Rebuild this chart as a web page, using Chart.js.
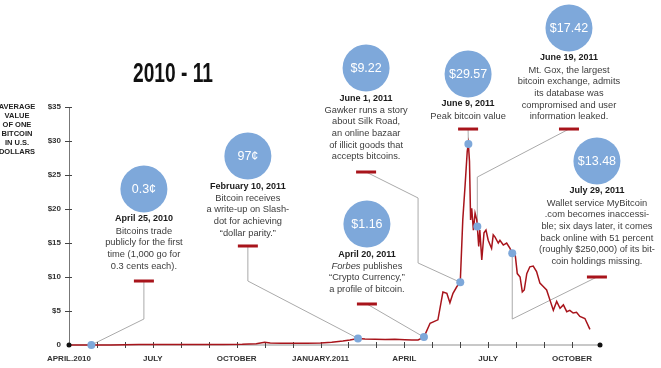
<!DOCTYPE html>
<html>
<head>
<meta charset="utf-8">
<script src="https://cdn.jsdelivr.net/npm/chart.js@4"></script>
<style>
  html, body { margin: 0; padding: 0; background: #fff; }
  #chart { display: block; }
</style>
</head>
<body>
<canvas id="chart" width="661" height="368"></canvas>
<script>
// x values are months since April 1, 2010
const months = [
  0, 0.8, 1.5, 2.5, 3.5, 4.5, 5.5, 6.2, 6.7, 7.0, 7.2, 7.6, 8.0, 8.5, 9.0, 9.4, 9.8,
  10.05, 10.34, 10.59, 10.95, 11.31, 11.66, 12.02, 12.27, 12.49, 12.7, 12.92, 13.2,
  13.38, 13.52, 13.63, 13.74, 13.88, 14.0, 14.09, 14.17, 14.25, 14.29, 14.33, 14.37,
  14.41, 14.47, 14.53, 14.59, 14.61, 14.66, 14.7, 14.77, 14.85, 14.92, 15.0, 15.12,
  15.18, 15.24, 15.36, 15.42, 15.54, 15.66, 15.78, 15.86, 15.96, 16.04, 16.14, 16.22,
  16.29, 16.38, 16.49, 16.61, 16.73, 16.85, 16.97, 17.09, 17.21, 17.33, 17.45, 17.57,
  17.69, 17.81, 17.92, 18.04, 18.16, 18.28, 18.46, 18.64
];
const prices = [
  0.003, 0.003, 0.01, 0.06, 0.07, 0.06, 0.06, 0.1, 0.2, 0.4, 0.3, 0.25, 0.24, 0.25, 0.3, 0.4, 0.6,
  0.75, 0.97, 0.88, 0.85, 0.8, 0.85, 0.78, 0.72, 0.75, 1.16, 3.2, 3.7,
  7.8, 7.6, 6.2, 7.6, 8.6, 9.22, 18.4, 23.3, 28.5, 29.57, 27, 18.4,
  20.1, 16.9, 19.4, 18.4, 17.42, 14.5, 16.9, 12.5, 16.5, 16.9, 15.4, 14.2,
  16.2, 15.9, 15.0, 15.4, 14.7, 15.0, 14.2, 13.48, 13.5, 10.5, 10.0, 7.8,
  8.1, 10.5, 11.5, 11.6, 10.8, 9.1, 8.6, 8.1, 6.6, 5.1, 6.4, 5.4,
  5.9, 4.9, 5.1, 4.7, 4.8, 4.2, 3.9, 2.3
];

const tickMonths = [0, 1, 2, 3, 4, 5, 6, 7, 8, 9, 10, 11, 12, 13, 14, 15, 16, 17, 18, 19];
const monthLabels = { 0: "APRIL.2010", 3: "JULY", 6: "OCTOBER", 9: "JANUARY.2011", 12: "APRIL", 15: "JULY", 18: "OCTOBER" };
const yAxisTitle = ["AVERAGE", "VALUE", "OF ONE", "BITCOIN", "IN U.S.", "DOLLARS"];

const eventMonths = [0.8, 10.34, 12.7, 14.0, 14.29, 14.61, 15.86];
const eventPrices = [0.003, 0.97, 1.16, 9.22, 29.57, 17.42, 13.48];
const eventBadges = ["0.3¢", "97¢", "$1.16", "$9.22", "$29.57", "$17.42", "$13.48"];
const eventDates = ["April 25, 2010", "February 10, 2011", "April 20, 2011", "June 1, 2011",
  "June 9, 2011", "June 19, 2011", "July 29, 2011"];
const eventNotes = [
  ["Bitcoins trade", "publicly for the first", "time (1,000 go for", "0.3 cents each)."],
  ["Bitcoin receives", "a write-up on Slash-", "dot for achieving", "“dollar parity.”"],
  ["*Forbes* publishes", "“Crypto Currency,”", "a profile of bitcoin."],
  ["Gawker runs a story", "about Silk Road,", "an online bazaar", "of illicit goods that", "accepts bitcoins."],
  ["Peak bitcoin value"],
  ["Mt. Gox, the largest", "bitcoin exchange, admits", "its database was", "compromised and user", "information leaked."],
  ["Wallet service MyBitcoin", ".com becomes inaccessi-", "ble; six days later, it comes",
   "back online with 51 percent", "(roughly $250,000) of its bit-", "coin holdings missing."]
];

// callout placement in axis units (month, dollars): text column x, date line y, red tick y, connector bends
const CALLOUTS = [
  { cx: 2.68, dateY: 18.53, tickY: 9.41, bends: [[2.68, 3.82]] },
  { cx: 6.40, dateY: 23.38, tickY: 14.56, bends: [[6.40, 9.41]] },
  { cx: 10.66, dateY: 13.38, tickY: 6.03, bends: [] },
  { cx: 10.63, dateY: 36.32, tickY: 25.44, bends: [[12.49, 21.62], [12.49, 12.06]] },
  { cx: 14.28, dateY: 35.44, tickY: 31.76, bends: [] },
  { cx: 17.89, dateY: 42.21, tickY: 31.76, bends: [[14.61, 24.7]] },
  { cx: 18.89, dateY: 22.65, tickY: 10.0, bends: [[15.86, 3.82]] }
];

const FONT = "'Liberation Sans', Arial, sans-serif";
const RED = "#a8141b";
const BLUE = "#7ea8da";

function drawNote(ctx, line, cx, cy) {
  const parts = line.split("*");
  const fonts = parts.map((p, k) => (k % 2 ? "italic " : "") + "9.3px " + FONT);
  let total = 0;
  const widths = parts.map((p, k) => { ctx.font = fonts[k]; const w = ctx.measureText(p).width; total += w; return w; });
  let xx = cx - total / 2;
  ctx.textAlign = "left";
  parts.forEach((p, k) => { ctx.font = fonts[k]; ctx.fillText(p, xx, cy); xx += widths[k]; });
}

const overlay = {
  id: "overlay",
  beforeDatasetsDraw(chart) {
    const { ctx, scales: { x, y } } = chart;
    ctx.save();
    // connector lines
    ctx.strokeStyle = "#aaaaaa";
    ctx.lineWidth = 1;
    CALLOUTS.forEach((c, i) => {
      ctx.beginPath();
      ctx.moveTo(x.getPixelForValue(c.cx), y.getPixelForValue(c.tickY));
      c.bends.forEach(b => ctx.lineTo(x.getPixelForValue(b[0]), y.getPixelForValue(b[1])));
      ctx.lineTo(x.getPixelForValue(eventMonths[i]), y.getPixelForValue(eventPrices[i]));
      ctx.stroke();
    });
    // tick marks crossing the axes
    ctx.strokeStyle = "#444";
    const y0 = y.getPixelForValue(0);
    tickMonths.slice(1, -1).forEach(m => {
      const px = Math.round(x.getPixelForValue(m)) + 0.5;
      ctx.beginPath(); ctx.moveTo(px, y0 - 3); ctx.lineTo(px, y0 + 3); ctx.stroke();
    });
    const x0 = x.getPixelForValue(0);
    y.ticks.forEach(t => {
      if (t.value === 0) return;
      const py = Math.round(y.getPixelForValue(t.value)) + 0.5;
      ctx.beginPath(); ctx.moveTo(x0 - 4, py); ctx.lineTo(x0 + 3, py); ctx.stroke();
    });
    ctx.restore();
  },
  afterDraw(chart) {
    const { ctx, scales: { x, y } } = chart;
    ctx.save();
    // axis end dots
    ctx.fillStyle = "#111";
    [0, 19].forEach(m => {
      ctx.beginPath(); ctx.arc(x.getPixelForValue(m), y.getPixelForValue(0), 2.5, 0, Math.PI * 2); ctx.fill();
    });

    // callouts
    CALLOUTS.forEach((c, i) => {
      const cx = x.getPixelForValue(c.cx);
      const dy = y.getPixelForValue(c.dateY);
      ctx.fillStyle = BLUE;
      ctx.beginPath(); ctx.arc(cx, dy - 30, 23.5, 0, Math.PI * 2); ctx.fill();
      ctx.fillStyle = "#fff";
      ctx.font = "12.5px " + FONT;
      ctx.textAlign = "center";
      ctx.textBaseline = "middle";
      ctx.fillText(eventBadges[i], cx, dy - 29);
      ctx.fillStyle = "#1a1a1a";
      ctx.font = "bold 9px " + FONT;
      ctx.fillText(eventDates[i], cx, dy);
      ctx.fillStyle = "#3c3c3c";
      eventNotes[i].forEach((ln, k) => drawNote(ctx, ln, cx, dy + 12 + k * 11.7));
      ctx.textAlign = "center";
      const ty = y.getPixelForValue(c.tickY);
      ctx.fillStyle = RED;
      ctx.fillRect(cx - 10, ty - 1.5, 20, 3);
    });

    // title, squeezed into a heavy condensed look
    ctx.fillStyle = "#111";
    ctx.font = "bold 27px " + FONT;
    ctx.textAlign = "left";
    ctx.textBaseline = "alphabetic";
    const title = "2010 - 11";
    const tw = ctx.measureText(title).width;
    ctx.translate(133, 82);
    ctx.scale(80 / tw, 1);
    ctx.fillText(title, 0, 0);
    ctx.setTransform(1, 0, 0, 1, 0, 0);

    // y axis title
    ctx.fillStyle = "#222";
    ctx.font = "bold 7.5px " + FONT;
    ctx.textAlign = "center";
    ctx.textBaseline = "middle";
    yAxisTitle.forEach((t, k) => ctx.fillText(t, 17, 107 + k * 9));
    ctx.restore();
  }
};

new Chart(document.getElementById("chart"), {
  data: {
    datasets: [
      {
        type: "scatter",
        data: eventMonths.map((m, i) => ({ x: m, y: eventPrices[i] })),
        pointRadius: 4,
        pointBackgroundColor: BLUE,
        pointBorderWidth: 0,
        clip: false
      },
      {
        type: "line",
        data: months.map((m, i) => ({ x: m, y: prices[i] })),
        borderColor: RED,
        borderWidth: 1.5,
        pointRadius: 0,
        tension: 0,
        clip: false
      }
    ]
  },
  options: {
    responsive: false,
    animation: false,
    devicePixelRatio: 1,
    layout: { padding: { top: 107, right: 61, left: 0, bottom: 0 } },
    plugins: { legend: { display: false }, tooltip: { enabled: false } },
    scales: {
      x: {
        type: "linear",
        min: 0,
        max: 19,
        afterFit: s => { s.height = 23; },
        afterBuildTicks: s => { s.ticks = tickMonths.map(v => ({ value: v })); },
        grid: { display: false, drawTicks: false },
        border: { display: true, color: "#c8c8c8", width: 2 },
        ticks: {
          autoSkip: false, maxRotation: 0, padding: 9, color: "#333",
          font: { family: FONT, size: 8, weight: "bold" },
          callback: v => monthLabels[v] || ""
        }
      },
      y: {
        type: "linear",
        min: 0,
        max: 35,
        afterFit: s => { s.width = 69; },
        grid: { display: false, drawTicks: false },
        border: { display: true, color: "#777", width: 1 },
        ticks: {
          stepSize: 5, padding: 8, color: "#333",
          font: { family: FONT, size: 8, weight: "bold" },
          callback: v => (v === 0 ? "0" : "$" + v)
        }
      }
    }
  },
  plugins: [overlay]
});
</script>
</body>
</html>
